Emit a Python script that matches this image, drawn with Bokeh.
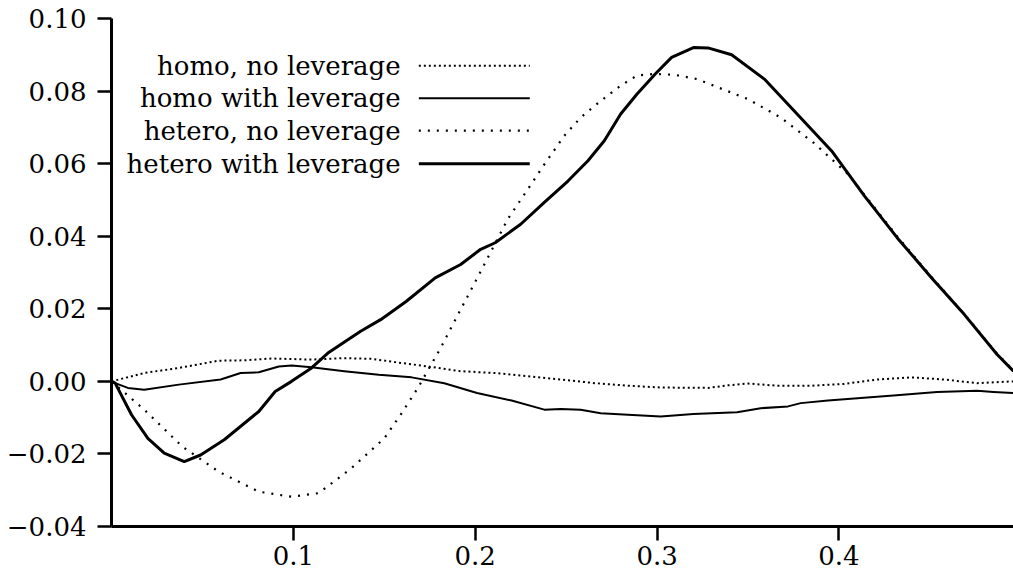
from bokeh.plotting import figure
from bokeh.models import Range1d, FixedTicker
from bokeh.core.properties import value
from bokeh.embed import file_html
from bokeh.resources import INLINE

# --- data -------------------------------------------------------------
homo_nolev_x = [0.000, 0.018, 0.037, 0.059, 0.073, 0.088, 0.110, 0.128, 0.143, 0.156,
                0.174, 0.192, 0.211, 0.229, 0.247, 0.266, 0.284, 0.302, 0.328, 0.339,
                0.350, 0.366, 0.385, 0.403, 0.421, 0.440, 0.458, 0.476, 0.496]
homo_nolev_y = [0.0000, 0.0023, 0.0037, 0.0057, 0.0058, 0.0063, 0.0060, 0.0064, 0.0062, 0.0053,
                0.0041, 0.0028, 0.0023, 0.0014, 0.0005, -0.0005, -0.0012, -0.0017, -0.0018, -0.0011,
                -0.0006, -0.0012, -0.0012, -0.0007, 0.0005, 0.0011, 0.0005, -0.0005, 0.0000]

homo_lev_x = [0.000, 0.002, 0.009, 0.018, 0.037, 0.060, 0.071, 0.081, 0.092, 0.099,
              0.110, 0.128, 0.147, 0.165, 0.183, 0.201, 0.220, 0.238, 0.247, 0.258,
              0.269, 0.284, 0.302, 0.320, 0.344, 0.357, 0.372, 0.379, 0.394, 0.412,
              0.430, 0.454, 0.476, 0.485, 0.496]
homo_lev_y = [0.0000, -0.0005, -0.0018, -0.0023, -0.0009, 0.0005, 0.0023, 0.0025, 0.0041, 0.0044,
              0.0039, 0.0028, 0.0018, 0.0011, -0.0005, -0.0032, -0.0053, -0.0078, -0.0076, -0.0078,
              -0.0088, -0.0092, -0.0097, -0.0090, -0.0085, -0.0074, -0.0069, -0.0060, -0.0053, -0.0046,
              -0.0039, -0.0029, -0.0026, -0.0029, -0.0032]

hetero_nolev_x = [0.000, 0.018, 0.039, 0.059, 0.081, 0.099, 0.114, 0.132, 0.150, 0.159,
                  0.1685, 0.181, 0.192, 0.205, 0.218, 0.229, 0.238, 0.249, 0.258, 0.269,
                  0.280, 0.289, 0.2985, 0.3095, 0.322, 0.331, 0.350, 0.368, 0.386, 0.405,
                  0.421, 0.432, 0.451, 0.469, 0.487, 0.496]
hetero_nolev_y = [0.0000, -0.0078, -0.0180, -0.0249, -0.0304, -0.0318, -0.0308, -0.0239, -0.0157, -0.0092,
                  -0.0018, 0.0092, 0.0198, 0.0322, 0.0448, 0.0530, 0.0598, 0.0677, 0.0727, 0.0773,
                  0.0815, 0.0843, 0.0847, 0.0845, 0.0833, 0.0815, 0.0778, 0.0727, 0.0658, 0.0571,
                  0.0470, 0.0400, 0.0287, 0.0185, 0.0076, 0.0030]

hetero_lev_x = [0.000, 0.002, 0.011, 0.020, 0.029, 0.040, 0.049, 0.062, 0.081, 0.090,
                0.099, 0.110, 0.119, 0.137, 0.148, 0.162, 0.178, 0.192, 0.203, 0.211,
                0.225, 0.238, 0.251, 0.262, 0.271, 0.280, 0.289, 0.299, 0.308, 0.320,
                0.328, 0.341, 0.359, 0.377, 0.396, 0.414, 0.432, 0.451, 0.469, 0.487, 0.496]
hetero_lev_y = [0.0000, -0.0005, -0.0092, -0.0157, -0.0198, -0.0221, -0.0203, -0.0161, -0.0083, -0.0028,
                0.0000, 0.0037, 0.0078, 0.0138, 0.0170, 0.0220, 0.0285, 0.0322, 0.0364, 0.0382,
                0.0433, 0.0493, 0.0552, 0.0608, 0.0663, 0.0737, 0.0792, 0.0847, 0.0893, 0.0920,
                0.0919, 0.0900, 0.0833, 0.0737, 0.0635, 0.0511, 0.0396, 0.0285, 0.0184, 0.0074, 0.0028]

series_labels = ["homo, no leverage", "homo with leverage",
                 "hetero, no leverage", "hetero with leverage"]

x_ticks = [0.1, 0.2, 0.3, 0.4]
x_tick_labels = ["0.1", "0.2", "0.3", "0.4"]
y_ticks = [-0.04, -0.02, 0.0, 0.02, 0.04, 0.06, 0.08, 0.10]
y_tick_labels = ["\u22120.04", "\u22120.02", "0.00", "0.02", "0.04", "0.06", "0.08", "0.10"]

# --- styling ----------------------------------------------------------
FONT = "DejaVu Serif"
FONT_SIZE = "26px"
styles = [
    dict(line_width=2, line_dash="2 3"),    # homo, no leverage
    dict(line_width=2),                     # homo with leverage
    dict(line_width=2.2, line_dash="2 7"),  # hetero, no leverage
    dict(line_width=3),                     # hetero with leverage
]

p = figure(width=1013, height=582, output_backend="svg", toolbar_location=None,
           x_range=Range1d(0.0, 0.496), y_range=Range1d(-0.04, 0.10),
           min_border_left=111, min_border_right=0, min_border_top=18,
           min_border_bottom=56)
p.outline_line_color = None
p.grid.visible = False
p.background_fill_color = "white"
p.border_fill_color = "white"

for ax in (p.xaxis[0], p.yaxis[0]):
    ax.axis_line_width = 3
    ax.axis_line_color = "black"
    ax.major_tick_line_width = 2.5
    ax.major_tick_line_color = "black"
    ax.major_tick_in = 0
    ax.major_tick_out = 14
    ax.minor_tick_line_color = None
    ax.major_label_text_font = FONT
    ax.major_label_text_font_size = FONT_SIZE
    ax.major_label_text_color = "black"

p.xaxis.ticker = FixedTicker(ticks=x_ticks)
p.xaxis.major_label_overrides = dict(zip(x_ticks, x_tick_labels))
p.xaxis.major_label_standoff = 5
p.yaxis.ticker = FixedTicker(ticks=y_ticks)
p.yaxis.major_label_overrides = dict(zip(y_ticks, y_tick_labels))
p.yaxis.major_label_standoff = 11

curves = [(homo_nolev_x, homo_nolev_y), (homo_lev_x, homo_lev_y),
          (hetero_nolev_x, hetero_nolev_y), (hetero_lev_x, hetero_lev_y)]
for (xs, ys), st in zip(curves, styles):
    p.line(xs, ys, line_color="black", line_join="round", **st)

# key: label text on the left, line sample on the right
key_rows_y = [0.0870, 0.0780, 0.0691, 0.0600]
key_text_x = 0.159
key_line_x0, key_line_x1 = 0.169, 0.230
p.text(x=[key_text_x] * 4, y=key_rows_y, text=series_labels,
       text_align="right", text_baseline="middle",
       text_font=value(FONT), text_font_size=FONT_SIZE, text_color="black")
for yk, st in zip(key_rows_y, styles):
    p.line([key_line_x0, key_line_x1], [yk, yk], line_color="black", **st)

open("out.html", "w").write(file_html(p, INLINE))
